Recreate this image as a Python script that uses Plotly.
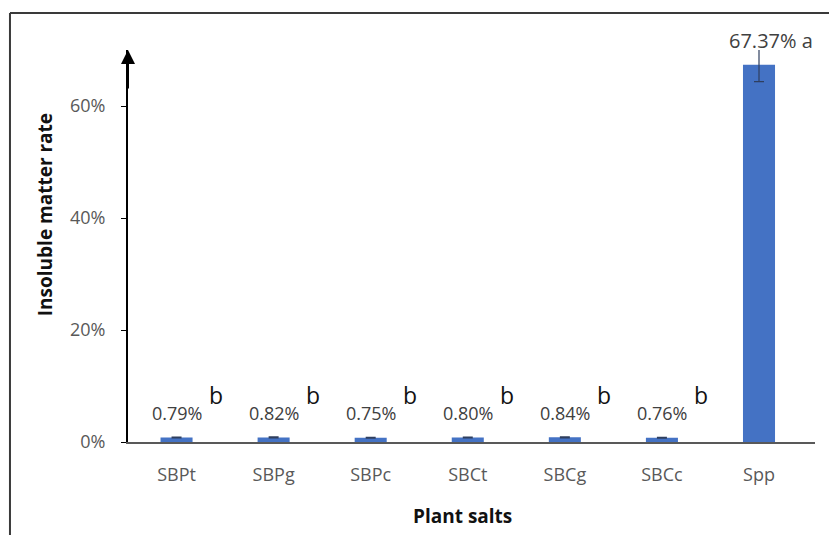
import plotly.graph_objects as go

categories = ["SBPt", "SBPg", "SBPc", "SBCt", "SBCg", "SBCc", "Spp"]
values = [0.79, 0.82, 0.75, 0.80, 0.84, 0.76, 67.37]
errors = [0.08, 0.1, 0.07, 0.09, 0.1, 0.07, 3.0]
letters = ["b", "b", "b", "b", "b", "b", "a"]
y_ticks = [0, 20, 40, 60]

FONT = "'Open Sans', sans-serif"
fig = go.Figure()
fig.add_trace(go.Bar(
    x=categories, y=values, width=0.33,
    marker=dict(color="#4472C4", line=dict(width=0)),
    error_y=dict(type="data", array=errors, visible=True, color="#2F3F5F", thickness=1.2, width=5),
    showlegend=False,
))

annotations = []
for c, v, l in zip(categories, values, letters):
    if c == "Spp":
        annotations.append(dict(x=c, y=v, xref="x", yref="y", text=f"{v:.2f}% {l}", showarrow=False,
                                yshift=24, xshift=12, font=dict(size=20, color="#404040", family=FONT)))
    else:
        annotations.append(dict(x=c, y=0, xref="x", yref="y", text=f"{v:.2f}%", showarrow=False,
                                yshift=29, font=dict(size=18, color="#404040", family=FONT)))
        annotations.append(dict(x=c, y=0, xref="x", yref="y", text=l, showarrow=False,
                                yshift=47, xshift=39, font=dict(size=23, color="#111111", family=FONT)))

# arrow on top of y axis
annotations.append(dict(x=0, xref="paper", y=70, yref="y", ax=0, ay=40, axref="pixel", ayref="pixel",
                        showarrow=True, arrowhead=2, arrowsize=1.4, arrowwidth=2, arrowcolor="black", text=""))
# axis titles
annotations.append(dict(x=-0.1208, xref="paper", xanchor="center", y=40.5, yref="y", yanchor="middle",
                        text="<b>Insoluble matter rate</b>", textangle=-90, showarrow=False,
                        font=dict(size=19, color="#111111", family=FONT)))
annotations.append(dict(x=0.487, xref="paper", xanchor="center", y=-0.19, yref="paper", yanchor="middle",
                        text="<b>Plant salts</b>", showarrow=False,
                        font=dict(size=19, color="#111111", family=FONT)))

fig.update_layout(
    width=829, height=535,
    margin=dict(l=128, r=14, t=50, b=93),
    paper_bgcolor="white", plot_bgcolor="white",
    font=dict(family=FONT, color="#595959"),
    annotations=annotations,
    shapes=[
        dict(type="line", xref="paper", yref="paper", x0=-0.1718, x1=-0.1718, y0=-0.3, y1=1.0944,
             line=dict(color="#3a3a3a", width=2)),
        dict(type="line", xref="paper", yref="paper", x0=-0.1718, x1=1.1, y0=1.0944, y1=1.0944,
             line=dict(color="#3a3a3a", width=2)),
    ],
    xaxis=dict(
        showline=True, linecolor="#595959", linewidth=2, ticks="", showgrid=False,
        tickfont=dict(size=18, color="#595959", family=FONT), ticklabelstandoff=15,
    ),
    yaxis=dict(
        range=[0, 70], tickvals=y_ticks, ticktext=[f"{t}%" for t in y_ticks],
        showline=True, linecolor="black", linewidth=2, ticks="outside", ticklen=5, tickcolor="black",
        showgrid=False, zeroline=False, ticklabelstandoff=12,
        tickfont=dict(size=18, color="#595959", family=FONT),
    ),
    bargap=0.67,
)

fig.write_html("out.html")
